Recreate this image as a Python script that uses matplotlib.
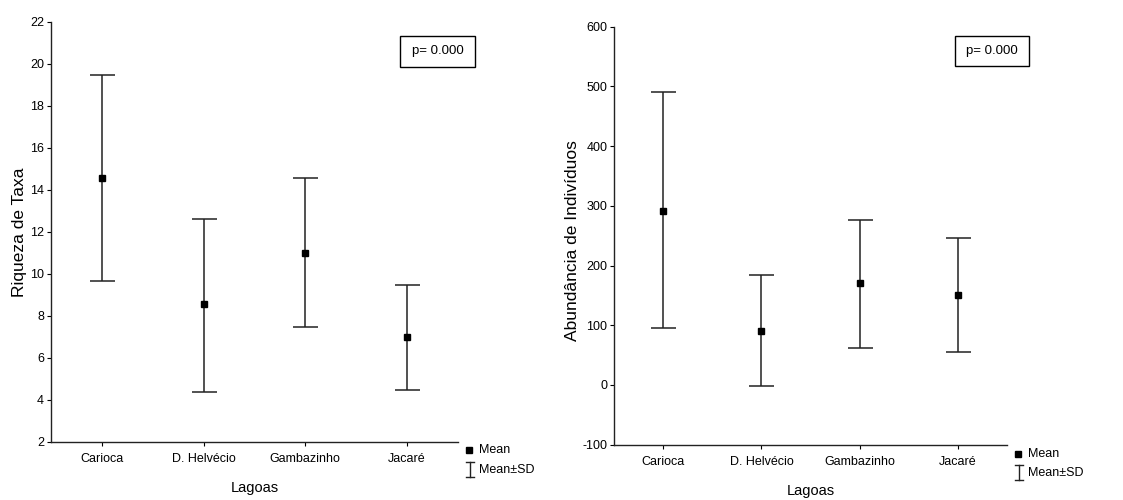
import matplotlib
matplotlib.use("Agg")
import matplotlib.pyplot as plt
from matplotlib.patches import Rectangle
from matplotlib.lines import Line2D

plt.rcParams['font.family'] = ['Liberation Sans', 'DejaVu Sans']
plt.rcParams['axes.unicode_minus'] = False

categories = ["Carioca", "D. Helvécio", "Gambazinho", "Jacaré"]
riq_mean = [14.55, 8.55, 11.0, 7.0]
riq_upper = [19.5, 12.6, 14.55, 9.5]
riq_lower = [9.65, 4.4, 7.5, 4.5]
abu_mean = [292, 90, 170, 151]
abu_upper = [490, 184, 276, 246]
abu_lower = [95, -1, 62, 56]

W, H = 1123, 500
fig = plt.figure(figsize=(W / 100, H / 100), dpi=100)

def fx(px):
    return px / W

def fy(py):
    return 1 - py / H

def panel(rect, means, upper, lower, ylim, yticks, ylabel, ylab_y, pbox, leg, xlab_y):
    ax = fig.add_axes(rect)
    x = list(range(len(categories)))
    yerr = [[m - l for m, l in zip(means, lower)], [u - m for m, u in zip(means, upper)]]
    ax.errorbar(x, means, yerr=yerr, fmt='s', color='black', ecolor='#222222',
                elinewidth=1.1, capsize=9, capthick=1.1, markersize=4.8)
    ax.set_xlim(-0.5, 3.5)
    ax.set_ylim(*ylim)
    ax.set_yticks(yticks)
    ax.set_xticks(x)
    ax.set_xticklabels(categories, fontsize=9)
    ax.tick_params(axis='y', labelsize=9, direction='out', length=3, width=0.8, pad=2)
    ax.tick_params(axis='x', direction='out', length=3, width=0.8, pad=5)
    for s in ['top', 'right']:
        ax.spines[s].set_visible(False)
    for s in ['left', 'bottom']:
        ax.spines[s].set_linewidth(1.0)
        ax.spines[s].set_color('#222222')
    ax.set_ylabel(ylabel, fontsize=12.5, labelpad=2)
    ax.yaxis.label.set_y(ylab_y)
    cx = rect[0] + rect[2] / 2
    fig.text(cx, fy(xlab_y), "Lagoas", ha='center', va='center', fontsize=10.5)
    x0, y0, x1, y1 = pbox
    fig.patches.append(Rectangle((fx(x0), fy(y1)), fx(x1 - x0), (y1 - y0) / H,
                                 transform=fig.transFigure, fill=False,
                                 edgecolor='black', linewidth=1.0))
    fig.text(fx((x0 + x1) / 2), fy((y0 + y1) / 2), "p= 0.000", ha='center',
             va='center', fontsize=9.5)
    mx, my, ix, iy0, iy1, ty = leg
    fig.lines.append(Line2D([fx(mx)], [fy(my)], marker='s', color='black',
                            markersize=4.5, transform=fig.transFigure))
    fig.text(fx(mx + 10), fy(my), "Mean", ha='left', va='center', fontsize=9)
    fig.lines.append(Line2D([fx(ix), fx(ix)], [fy(iy0), fy(iy1)], color='#222222',
                            linewidth=1.0, transform=fig.transFigure))
    fig.lines.append(Line2D([fx(ix - 4), fx(ix + 4)], [fy(iy0), fy(iy0)], color='#222222',
                            linewidth=1.0, transform=fig.transFigure))
    fig.lines.append(Line2D([fx(ix - 4), fx(ix + 4)], [fy(iy1), fy(iy1)], color='#222222',
                            linewidth=1.0, transform=fig.transFigure))
    fig.text(fx(mx + 10), fy(ty), "Mean±SD", ha='left', va='center', fontsize=9)
    return ax

panel([fx(51), fy(442), fx(457.8 - 51), (442 - 22) / H],
      riq_mean, riq_upper, riq_lower, (2, 22), list(range(2, 23, 2)),
      "Riqueza de Taxa", 0.5, (400, 36, 475, 66.5),
      (469, 450, 470, 462, 477, 470), 488)

panel([fx(614.3), fy(444.7), fx(1006.7 - 614.3), (444.7 - 26.7) / H],
      abu_mean, abu_upper, abu_lower, (-100, 600), list(range(-100, 601, 100)),
      "Abundância de Indivíduos", 0.488, (955, 36, 1029, 66),
      (1018, 454, 1019, 465, 480, 473), 491)

fig.savefig("out.png", dpi=100, facecolor='white')
